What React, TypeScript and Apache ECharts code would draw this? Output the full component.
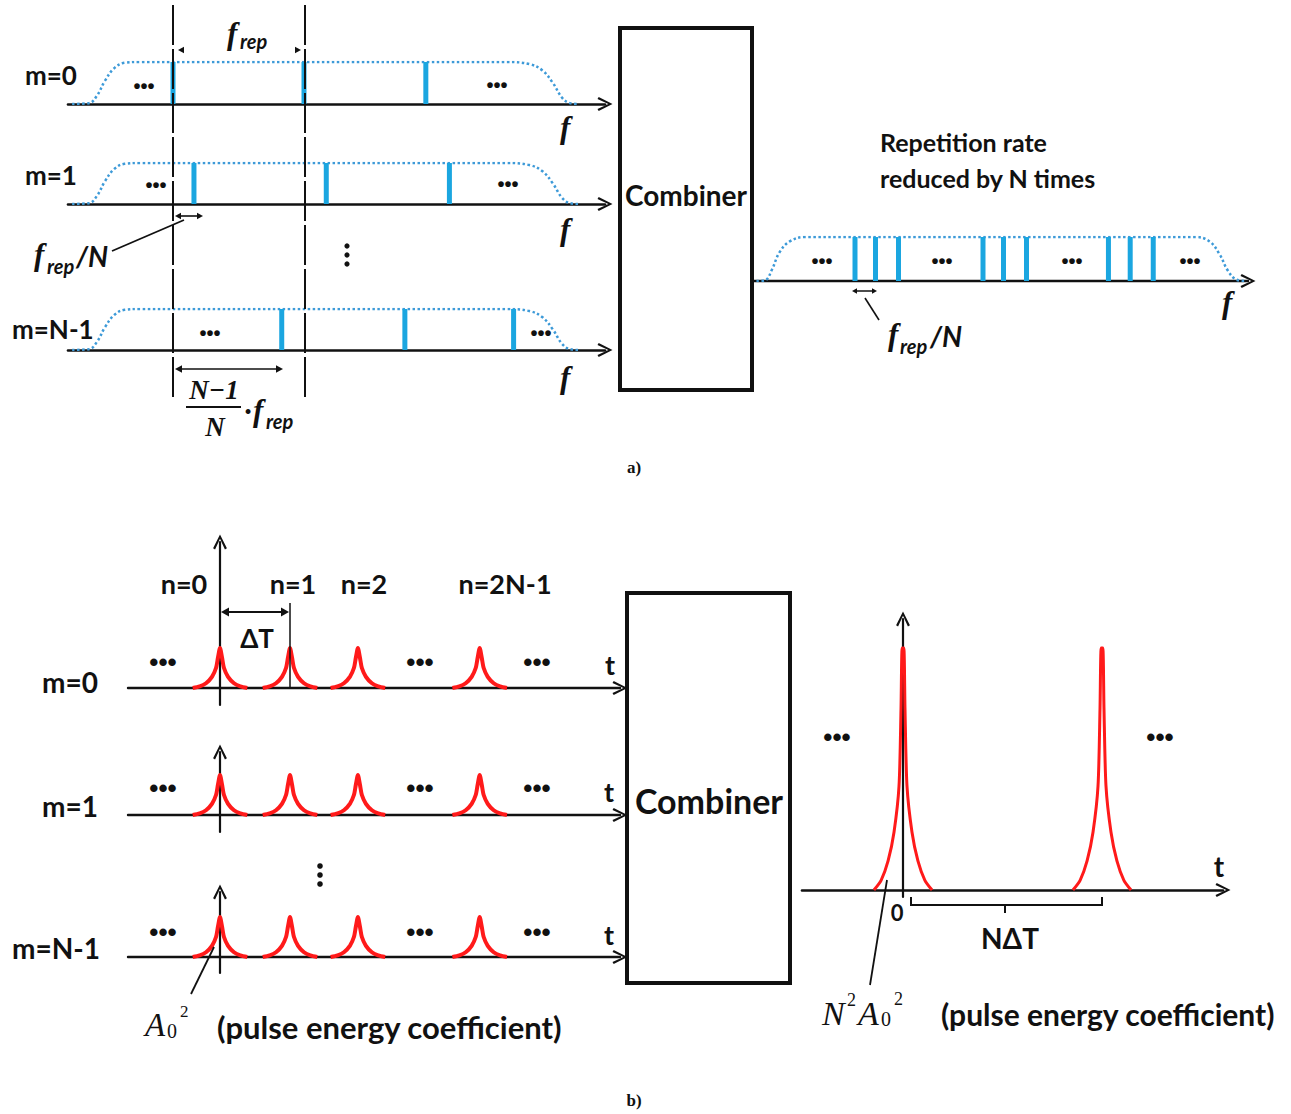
import React, { useEffect, useRef } from "react";
import * as echarts from "echarts";

// ---------------- data ----------------
// a) frequency combs, positions in units of f_rep (0 = first reference line)
const COMB_M0 = [0, 1.0, 1.93];
const COMB_M1 = [0.16, 1.17, 2.11];
const COMB_MN1 = [0.83, 1.77, 2.6];
// spectral envelope (f in f_rep units, relative height)
const SPECTRUM_ENVELOPE: number[][] = [
  [-0.77, 0], [-0.64, 0.02], [-0.58, 0.2], [-0.52, 0.55], [-0.45, 0.85], [-0.37, 0.98], [-0.25, 1],
  [2.55, 1], [2.72, 0.95], [2.82, 0.8], [2.9, 0.5], [2.97, 0.15], [3.03, 0.02], [3.1, 0],
];
// combined output comb (f in f_rep units from the first output line)
const OUT_COMB = [0, 0.16, 0.34, 1.0, 1.16, 1.34, 1.98, 2.15, 2.33];
const OUT_ENVELOPE: number[][] = [
  [-0.77, 0], [-0.7, 0.02], [-0.65, 0.25], [-0.59, 0.65], [-0.51, 0.9], [-0.39, 1],
  [2.66, 1], [2.77, 0.9], [2.85, 0.6], [2.91, 0.25], [2.98, 0.03], [3.05, 0],
];
// b) pulse trains, time in units of ΔT
const PULSE_TIMES = [0, 1, 1.97, 3.71];
const PULSE_SHAPE: number[][] = [
  [-0.39, 0], [-0.29, 0.04], [-0.2, 0.12], [-0.115, 0.28], [-0.057, 0.5], [-0.03, 0.75], [0, 1],
  [0.03, 0.75], [0.057, 0.5], [0.115, 0.28], [0.2, 0.12], [0.29, 0.04], [0.39, 0],
];
// combined pulse train, time in units of NΔT
const OUT_PULSE_TIMES = [0, 1];
const OUT_PULSE_SHAPE: number[][] = [
  [-0.146, 0], [-0.11, 0.04], [-0.075, 0.12], [-0.045, 0.24], [-0.02, 0.43], [-0.01, 0.75], [-0.004, 1],
  [0.004, 1], [0.01, 0.75], [0.02, 0.43], [0.045, 0.24], [0.075, 0.12], [0.11, 0.04], [0.146, 0],
];
const ROW_LABELS = ["m=0", "m=1", "m=N-1"];
const PULSE_LABELS = ["n=0", "n=1", "n=2", "n=2N-1"];

// ---------------- styles ----------------
const INK = "#111";
const BLUE = "#1ba6e0";
const ENV = "#3d9ad8";
const RED = "#ff1a1a";
const SANS = 'Lato, "Open Sans", sans-serif';
const SERIF = '"Liberation Serif", "DejaVu Serif", serif';
const CHEVRON = "path://M7,0 L14,14 L12,15.2 L7,4.2 L2,15.2 L0,14 Z";

function T(x: number, y: number, text: string, o: any = {}) {
  return {
    type: "text", x, y, z: 10, silent: true,
    style: { text, fill: INK, fontFamily: SANS, fontSize: 27, fontWeight: "bold", align: "center", verticalAlign: "middle", ...o },
  };
}
function L(x1: number, y1: number, x2: number, y2: number, w = 2, extra: any = {}) {
  return { type: "line", z: 10, silent: true, shape: { x1, y1, x2, y2 }, style: { stroke: INK, lineWidth: w, ...extra } };
}
function head(x: number, y: number, dir: "l" | "r", s = 6) {
  const k = dir === "l" ? 1 : -1;
  return { type: "polygon", z: 10, silent: true, shape: { points: [[x, y], [x + k * s, y - s * 0.55], [x + k * s, y + s * 0.55]] }, style: { fill: INK } };
}
function dArrow(x1: number, x2: number, y: number, w = 1.6, s = 7) {
  return [L(x1 + 2, y, x2 - 2, y, w), head(x1, y, "l", s), head(x2, y, "r", s)];
}
function dots(x: number, y: number, size = 20) {
  return T(x, y, "•••", { fontFamily: '"Liberation Sans", Arial, sans-serif', fontSize: size });
}
function vdots(x: number, ys: number[], r = 2.6) {
  return ys.map((y) => ({ type: "circle", z: 10, silent: true, shape: { cx: x, cy: y, r }, style: { fill: INK } }));
}
function fsym(x: number, y: number, size = 31) {
  return T(x, y, "f", { fontFamily: SERIF, fontStyle: "italic", fontSize: size, align: "left" });
}
function sub(x: number, y: number, text: string, size = 20) {
  return T(x, y, text, { fontStyle: "italic", fontSize: size, align: "left" });
}

function buildOption() {
  const grid: any[] = [];
  const xAxis: any[] = [];
  const yAxis: any[] = [];
  const series: any[] = [];

  function addPanel(p: any) {
    const i = grid.length;
    grid.push({ left: p.left, top: p.yEnd, width: p.right - p.left, height: p.bottom - p.yEnd, containLabel: false });
    const axisLine = { show: true, onZero: true, symbol: ["none", CHEVRON], symbolSize: p.arrow, lineStyle: { color: INK, width: p.axisW } };
    const common = { axisTick: { show: false }, axisLabel: { show: false }, splitLine: { show: false } };
    xAxis.push({ gridIndex: i, type: "value", min: (p.left - p.origin) / p.unit, max: (p.right - p.origin) / p.unit, axisLine, ...common });
    yAxis.push({
      gridIndex: i, type: "value", show: p.showY,
      min: -(p.bottom - p.base) / p.yUnit, max: (p.base - p.yEnd) / p.yUnit,
      axisLine: { ...axisLine, lineStyle: { color: INK, width: p.yW || p.axisW } }, ...common,
    });
    return i;
  }

  // ---- a) input combs ----
  const aTop = [62, 163, 309];
  const aBase = [104, 204, 350];
  [COMB_M0, COMB_M1, COMB_MN1].forEach((comb, r) => {
    const i = addPanel({ left: 68, right: 605, origin: 173, unit: 131, yEnd: aTop[r], base: aBase[r], bottom: aBase[r], yUnit: aBase[r] - aTop[r], showY: false, axisW: 2.6, arrow: [14, 15] });
    series.push({ type: "line", xAxisIndex: i, yAxisIndex: i, data: SPECTRUM_ENVELOPE, smooth: 0.4, showSymbol: false, silent: true, z: 2, lineStyle: { color: ENV, width: 2.5, type: "dotted" } });
    series.push({ type: "bar", xAxisIndex: i, yAxisIndex: i, data: comb.map((f) => [f, 1]), barWidth: 5, silent: true, z: 3, itemStyle: { color: BLUE } });
  });
  // ---- a) output comb ----
  {
    const i = addPanel({ left: 752, right: 1248, origin: 855, unit: 128, yEnd: 237, base: 281, bottom: 281, yUnit: 44, showY: false, axisW: 2.4, arrow: [14, 15] });
    series.push({ type: "line", xAxisIndex: i, yAxisIndex: i, data: OUT_ENVELOPE, smooth: 0.4, showSymbol: false, silent: true, z: 2, lineStyle: { color: ENV, width: 2.5, type: "dotted" } });
    series.push({ type: "bar", xAxisIndex: i, yAxisIndex: i, data: OUT_COMB.map((f) => [f, 1]), barWidth: 5, silent: true, z: 3, itemStyle: { color: BLUE } });
  }
  // ---- b) input pulse trains ----
  const bEnd = [542, 752, 892];
  const bBase = [688, 815, 957];
  const bBottom = [705, 832, 973];
  bBase.forEach((base, r) => {
    const i = addPanel({ left: 128, right: 620, origin: 220, unit: 70, yEnd: bEnd[r], base, bottom: bBottom[r], yUnit: 40, showY: true, axisW: 2.4, yW: 2.2, arrow: [14, 15] });
    PULSE_TIMES.forEach((t) => {
      series.push({ type: "line", xAxisIndex: i, yAxisIndex: i, data: PULSE_SHAPE.map(([dx, h]) => [t + dx, h]), smooth: 0.25, showSymbol: false, silent: true, z: 4, lineStyle: { color: RED, width: 4 } });
    });
  });
  // ---- b) output pulse train ----
  {
    const i = addPanel({ left: 802, right: 1223, origin: 903, unit: 199, yEnd: 619, base: 890, bottom: 897, yUnit: 242, showY: true, axisW: 2.6, yW: 2.2, arrow: [14, 15] });
    OUT_PULSE_TIMES.forEach((t) => {
      series.push({ type: "line", xAxisIndex: i, yAxisIndex: i, data: OUT_PULSE_SHAPE.map(([dx, h]) => [t + dx, h]), smooth: 0.25, showSymbol: false, silent: true, z: 4, lineStyle: { color: RED, width: 3 } });
    });
  }

  // ---------------- annotations ----------------
  const g: any[] = [];
  // a) reference lines
  g.push(L(173, 5, 173, 397, 2, { lineDash: [40, 4] }));
  g.push(L(305, 5, 305, 397, 2, { lineDash: [40, 4] }));
  // f_rep top
  g.push(head(178, 50, "l", 6), head(301, 50, "r", 6));
  g.push(fsym(227, 33), sub(240, 41, "rep"));
  // row labels
  g.push(T(25, 75, ROW_LABELS[0], { align: "left", fontSize: 26 }));
  g.push(T(25, 175, ROW_LABELS[1], { align: "left", fontSize: 26 }));
  g.push(T(12, 329, ROW_LABELS[2], { align: "left", fontSize: 26 }));
  // dots
  g.push(dots(144, 86), dots(497, 85), dots(156, 185), dots(508, 184), dots(210, 333), dots(541, 333));
  // f axis labels
  g.push(fsym(560, 127), fsym(560, 229), fsym(560, 377));
  // f_rep/N on the left
  g.push(...dArrow(175, 203, 216, 1.6, 6));
  g.push(L(184, 220, 112, 251, 1.8));
  g.push(fsym(34, 254), sub(47, 266, "rep"), T(76, 256, "/N", { fontStyle: "italic", fontSize: 28, align: "left" }));
  g.push(...vdots(347, [246, 255, 264]));
  // (N-1)/N · f_rep
  g.push(...dArrow(175, 283, 369, 1.6, 7));
  g.push(T(214, 390, "N−1", { fontFamily: SERIF, fontStyle: "italic", fontSize: 27 }));
  g.push(L(186, 407, 241, 407, 2));
  g.push(T(215, 427, "N", { fontFamily: SERIF, fontStyle: "italic", fontSize: 27 }));
  g.push(T(248, 410, "·", { fontSize: 26 }));
  g.push(fsym(253, 410), sub(266, 421, "rep"));
  // combiner a
  g.push({ type: "rect", z: 10, silent: true, shape: { x: 620, y: 28, width: 132, height: 362 }, style: { fill: "none", stroke: INK, lineWidth: 4 } });
  g.push(T(686, 195, "Combiner", { fontSize: 28 }));
  // output text
  g.push(T(880, 142, "Repetition rate", { align: "left", fontSize: 25 }));
  g.push(T(880, 178, "reduced by N times", { align: "left", fontSize: 25 }));
  g.push(dots(822, 261), dots(942, 261), dots(1072, 261), dots(1190, 261));
  g.push(fsym(1222, 302));
  g.push(...dArrow(852, 877, 291, 1.5, 5));
  g.push(L(865, 298, 879, 320, 1.6));
  g.push(fsym(888, 334), sub(900, 346, "rep"), T(930, 336, "/N", { fontStyle: "italic", fontSize: 28, align: "left" }));
  g.push(T(634, 467, "a)", { fontFamily: SERIF, fontSize: 17 }));

  // b) labels
  g.push(T(42, 682, ROW_LABELS[0], { align: "left", fontSize: 28 }));
  g.push(T(42, 806, ROW_LABELS[1], { align: "left", fontSize: 28 }));
  g.push(T(12, 948, ROW_LABELS[2], { align: "left", fontSize: 28 }));
  g.push(T(184, 583, PULSE_LABELS[0]), T(293, 583, PULSE_LABELS[1]), T(364, 583, PULSE_LABELS[2]), T(505, 583, PULSE_LABELS[3]));
  g.push(...dArrow(221, 289, 612, 2, 8));
  g.push(L(290, 603, 290, 688, 1.5));
  g.push(T(257, 638, "ΔT", { fontSize: 26 }));
  [662, 788, 932].forEach((y) => g.push(dots(163, y, 26), dots(420, y, 26), dots(537, y, 26)));
  g.push(T(610, 664, "t", { fontSize: 27 }), T(609, 791, "t", { fontSize: 27 }), T(609, 934, "t", { fontSize: 27 }));
  g.push(...vdots(320, [866, 875, 884], 2.8));
  g.push(L(214, 947, 191, 994, 1.8));
  g.push(T(145, 1025, "A", { fontFamily: SERIF, fontStyle: "italic", fontWeight: "normal", fontSize: 33, align: "left" }));
  g.push(T(167, 1031, "0", { fontFamily: SERIF, fontWeight: "normal", fontSize: 20, align: "left" }));
  g.push(T(180, 1011, "2", { fontFamily: SERIF, fontWeight: "normal", fontSize: 17, align: "left" }));
  g.push(T(217, 1027, "(pulse energy coefficient)", { align: "left", fontSize: 31 }));
  // combiner b
  g.push({ type: "rect", z: 10, silent: true, shape: { x: 627, y: 593, width: 163, height: 390 }, style: { fill: "none", stroke: INK, lineWidth: 4 } });
  g.push(T(709, 800, "Combiner", { fontSize: 34 }));
  // output pulses annotations
  g.push(dots(837, 737, 26), dots(1160, 737, 26));
  g.push(T(1219, 866, "t", { fontSize: 28 }));
  g.push(T(897, 912, "0", { fontSize: 22 }));
  g.push({ type: "polyline", z: 10, silent: true, shape: { points: [[911, 897], [911, 905], [1102, 905], [1102, 897]] }, style: { stroke: INK, lineWidth: 2, fill: "none" } });
  g.push(L(1005, 905, 1005, 913, 2));
  g.push(T(1010, 938, "NΔT", { fontSize: 28 }));
  g.push(L(887, 880, 870, 985, 1.8));
  g.push(T(822, 1013, "N", { fontFamily: SERIF, fontStyle: "italic", fontWeight: "normal", fontSize: 34, align: "left" }));
  g.push(T(847, 1000, "2", { fontFamily: SERIF, fontWeight: "normal", fontSize: 18, align: "left" }));
  g.push(T(858, 1013, "A", { fontFamily: SERIF, fontStyle: "italic", fontWeight: "normal", fontSize: 34, align: "left" }));
  g.push(T(881, 1019, "0", { fontFamily: SERIF, fontWeight: "normal", fontSize: 20, align: "left" }));
  g.push(T(894, 999, "2", { fontFamily: SERIF, fontWeight: "normal", fontSize: 18, align: "left" }));
  g.push(T(941, 1014, "(pulse energy coefficient)", { align: "left", fontSize: 30 }));
  g.push(T(634, 1100, "b)", { fontFamily: SERIF, fontSize: 17 }));

  return {
    animation: false,
    backgroundColor: "#fff",
    grid, xAxis, yAxis, series,
    graphic: { elements: g },
  };
}

export default function App() {
  const ref = useRef<HTMLDivElement>(null);
  useEffect(() => {
    const chart = echarts.init(ref.current!, null, { renderer: "svg" });
    chart.setOption(buildOption() as any);
    return () => chart.dispose();
  }, []);
  return <div ref={ref} style={{ position: "absolute", left: 0, top: 0, width: 1291, height: 1114, background: "#fff" }} />;
}
